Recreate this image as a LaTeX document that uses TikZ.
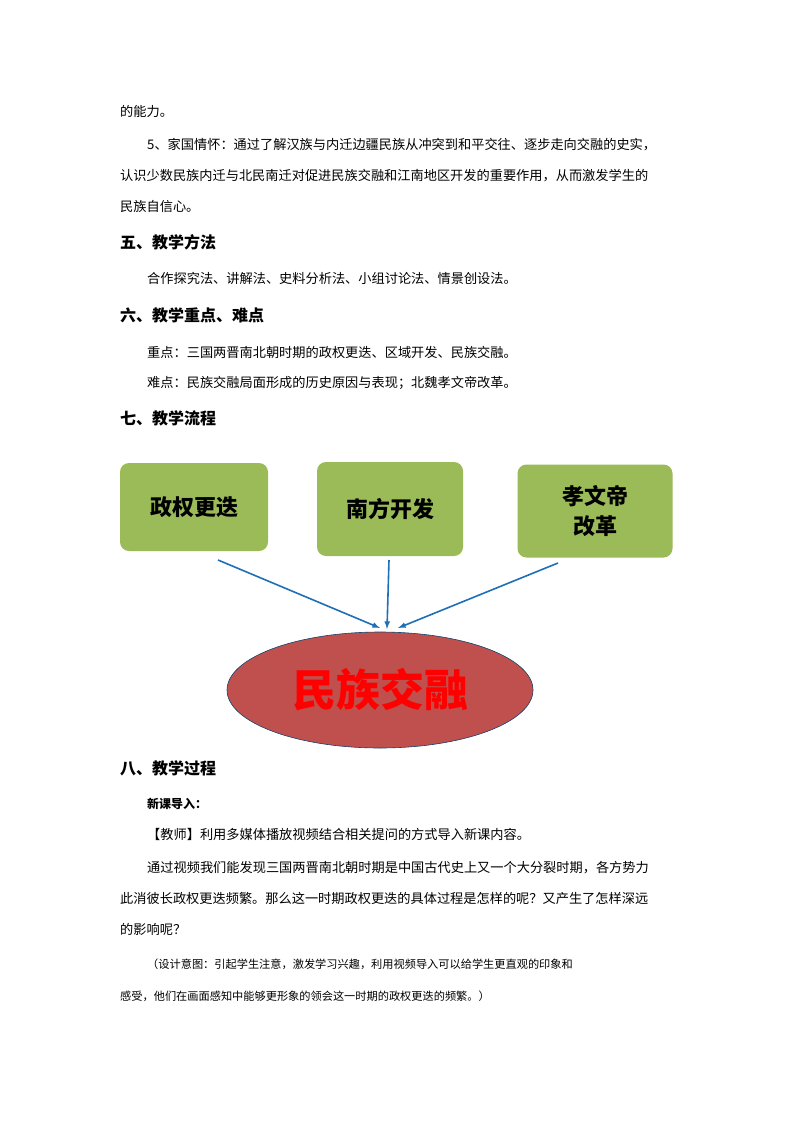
\documentclass[tikz,border=0pt]{standalone}
\usepackage{fontspec}
\usetikzlibrary{shapes.geometric}
\setmainfont{Noto Sans CJK SC}
\begin{document}
\begin{tikzpicture}[x=1pt,y=-1pt,
  txt/.style={anchor=base west,inner sep=0pt,font=\fontsize{13.2}{14}\selectfont},
  head/.style={anchor=base west,inner sep=0pt,font=\fontsize{16}{18}\selectfont\bfseries},
  box/.style={draw=none,fill=boxg,rounded corners=9pt,font=\fontsize{22}{30}\selectfont\bfseries,align=center},
  arr/.style={draw=arrb,line width=1.6pt,-latex}]
\definecolor{boxg}{HTML}{9BBB59}
\definecolor{arrb}{HTML}{1F6FB8}
\definecolor{ellr}{HTML}{C0504D}
\useasboundingbox (0,0) rectangle (794,1123);
\fill[white] (0,0) rectangle (794,1123);
\node[txt] (l1) at (120,117) {的能力。};
\node[txt] (l2) at (147,150) {5、家国情怀：通过了解汉族与内迁边疆民族从冲突到和平交往、逐步走向交融的史实，};
\node[txt] (l3) at (120,181) {认识少数民族内迁与北民南迁对促进民族交融和江南地区开发的重要作用，从而激发学生的};
\node[txt] (l4) at (120,212) {民族自信心。};
\node[head] (h5) at (120,248) {五、教学方法};
\node[txt] (l5) at (147,283) {合作探究法、讲解法、史料分析法、小组讨论法、情景创设法。};
\node[head] (h6) at (120,321) {六、教学重点、难点};
\node[txt] (l6) at (147,357) {重点：三国两晋南北朝时期的政权更迭、区域开发、民族交融。};
\node[txt] (l7) at (147,387) {难点：民族交融局面形成的历史原因与表现；北魏孝文帝改革。};
\node[head] (h7) at (120,424) {七、教学流程};
\node[box,minimum width=148pt,minimum height=88pt] (b1) at (194,507) {政权更迭};
\node[box,minimum width=146pt,minimum height=94pt] (b2) at (390,509) {南方开发};
\node[box,minimum width=155pt,minimum height=93pt] (b3) at (595,511) {孝文帝\\改革};
\node[ellipse,draw=arrb!60!black,line width=0.6pt,fill=ellr,minimum width=306pt,minimum height=116pt,text=red,font=\fontsize{44}{44}\selectfont\bfseries] (e) at (380,690) {民族交融};
\coordinate (a1) at (218,560); \coordinate (t1) at (380,628);
\coordinate (a2) at (389,560); \coordinate (t2) at (387,629);
\coordinate (a3) at (558,563); \coordinate (t3) at (398,628);
\draw[arr] (a1) -- (t1);
\draw[arr] (a2) -- (t2);
\draw[arr] (a3) -- (t3);
\node[head] (h8) at (120,774) {八、教学过程};
\node[txt,font=\fontsize{12}{14}\selectfont\bfseries] (l8) at (147,808) {新课导入：};
\node[txt] (l9) at (147,839) {【教师】利用多媒体播放视频结合相关提问的方式导入新课内容。};
\node[txt] (l10) at (147,872) {通过视频我们能发现三国两晋南北朝时期是中国古代史上又一个大分裂时期，各方势力};
\node[txt] (l11) at (120,903) {此消彼长政权更迭频繁。那么这一时期政权更迭的具体过程是怎样的呢？又产生了怎样深远};
\node[txt] (l12) at (120,934) {的影响呢？};
\node[txt,font=\fontsize{11.2}{14}\selectfont] (l13) at (147,968) {（设计意图：引起学生注意，激发学习兴趣，利用视频导入可以给学生更直观的印象和};
\node[txt,font=\fontsize{11.2}{14}\selectfont] (l14) at (120,1000) {感受，他们在画面感知中能够更形象的领会这一时期的政权更迭的频繁。）};
\end{tikzpicture}
\end{document}
